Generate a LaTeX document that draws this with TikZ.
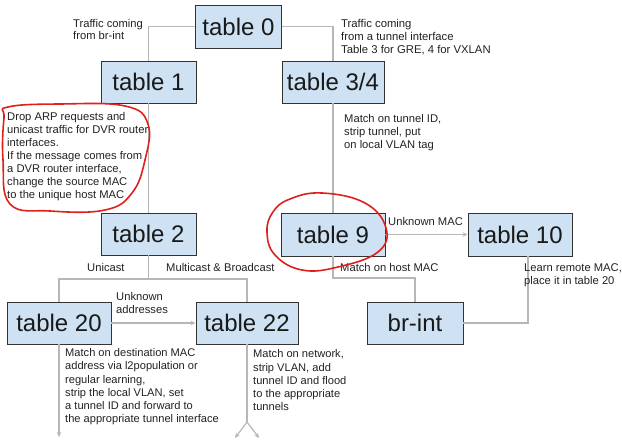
\documentclass[tikz,border=0pt]{standalone}
\usepackage{fontspec}
\setmainfont{Liberation Sans}
\usetikzlibrary{arrows.meta}
\definecolor{boxfill}{HTML}{CFE2F3}
\definecolor{boxline}{HTML}{333333}
\definecolor{conn}{HTML}{B7B7B7}
\definecolor{pen}{HTML}{E0201B}
\definecolor{txt}{HTML}{222222}
\tikzset{
  tbl/.style={draw=boxline, line width=0.9pt, fill=boxfill, inner sep=0pt,
    font=\fontsize{24}{28}\selectfont, text=black!90},
  lbl/.style={inner sep=0pt, anchor=north west, align=left, text=txt,
    font=\fontsize{11.2}{13}\selectfont},
  wire/.style={draw=conn, line width=1.2pt},
  arr/.style={wire, -{Stealth[length=5pt,width=4.5pt]}},
  redpen/.style={draw=pen, line width=1.6pt}
}
\begin{document}
\begin{tikzpicture}[x=1pt, y=-1pt]
\useasboundingbox (0,0) rectangle (622,446);
\fill[white] (0,0) rectangle (622,446);

% nodes
\node[tbl, minimum width=86pt, minimum height=43pt] (t0) at (238.5,26.5) {table 0};
\node[tbl, minimum width=95pt, minimum height=42pt] (t1) at (148.5,82) {table 1};
\node[tbl, minimum width=102pt, minimum height=42pt] (t34) at (333,82) {table 3/4};
\node[tbl, minimum width=95pt, minimum height=42pt] (t2) at (148.5,234) {table 2};
\node[tbl, minimum width=104pt, minimum height=43pt] (t9) at (333,234.5) {table 9};
\node[tbl, minimum width=104pt, minimum height=43pt] (t10) at (520,234.5) {table 10};
\node[tbl, minimum width=104pt, minimum height=42pt] (t20) at (59,323) {table 20};
\node[tbl, minimum width=102pt, minimum height=42pt] (t22) at (247,323) {table 22};
\node[tbl, minimum width=96pt, minimum height=42pt] (brint) at (415,323) {br-int};

% junction coordinates
\coordinate (j2) at (148.5,279);
\coordinate (j9) at (333,278);
\coordinate (e20) at (59,437);
\coordinate (f22) at (247,422);
\coordinate (fl) at (235,438);
\coordinate (fr) at (259,438);

% connectors
\draw[wire] (t0.west) -| (t1.north);
\draw[wire] (t0.east) -| (t34.north);
\draw[wire] (t1.south) -- (t2.north);
\draw[wire] (t34.south) -- (t9.north);
\draw[wire] (t9.south) -- (j9) -| (brint.north);
\draw[arr] (t9.east) -- (t10.west);
\draw[wire] ([xshift=8pt]t10.south) |- (brint.east);
\draw[wire] (t2.south) -- (j2);
\draw[wire] (t20.north) |- (j2) -| (t22.north);
\draw[arr] (t20.east) -- (t22.west);
\draw[arr] (t20.south) -- (e20);
\draw[wire] (t22.south) -- (f22);
\draw[arr] (f22) -- (fl);
\draw[arr] (f22) -- (fr);

% labels
\node[lbl, font=\fontsize{11.2}{11.5}\selectfont] (l0) at (73,19.5) {Traffic coming\\from br-int};
\node[lbl, font=\fontsize{11.3}{12.7}\selectfont] (l34) at (341,19.5) {Traffic coming\\from a tunnel interface\\Table 3 for GRE, 4 for VXLAN};
\node[lbl, font=\fontsize{11.2}{12.7}\selectfont] (lmt) at (344,114.5) {Match on tunnel ID,\\strip tunnel, put\\on local VLAN tag};
\node[lbl, font=\fontsize{11.2}{13}\selectfont] (ldrop) at (7,112.5) {Drop ARP requests and\\unicast traffic for DVR router\\interfaces.\\If the message comes from\\a DVR router interface,\\change the source MAC\\to the unique host MAC};
\node[lbl] (luni) at (87,263.5) {Unicast};
\node[lbl] (lmulti) at (166,263.5) {Multicast \& Broadcast};
\node[lbl] (lunk) at (116,292.5) {Unknown\\addresses};
\node[lbl] (lumac) at (388,217.5) {Unknown MAC};
\node[lbl] (lhost) at (340,263.5) {Match on host MAC};
\node[lbl] (llearn) at (524,263.5) {Learn remote MAC,\\place it in table 20};
\node[lbl, font=\fontsize{11.1}{13.2}\selectfont] (l20) at (65,348.5) {Match on destination MAC\\address via l2population or\\regular learning,\\strip the local VLAN, set\\a tunnel ID and forward to\\the appropriate tunnel interface};
\node[lbl, font=\fontsize{11.1}{13.3}\selectfont] (l22) at (253,349.5) {Match on network,\\strip VLAN, add\\tunnel ID and flood\\to the appropriate\\tunnels};

% red hand-drawn circles
\draw[redpen] plot[smooth cycle, tension=0.7] coordinates {
  (8,107) (60,104) (125,106) (148,124) (145,160) (132,193) (105,210) (50,211) (10,204) (3,160) (4,118)};
\draw[redpen] plot[smooth cycle, tension=0.7] coordinates {
  (290,199) (322,193) (365,203) (386,228) (378,252) (338,267) (302,270) (275,255) (267,232) (273,212)};
\end{tikzpicture}
\end{document}
